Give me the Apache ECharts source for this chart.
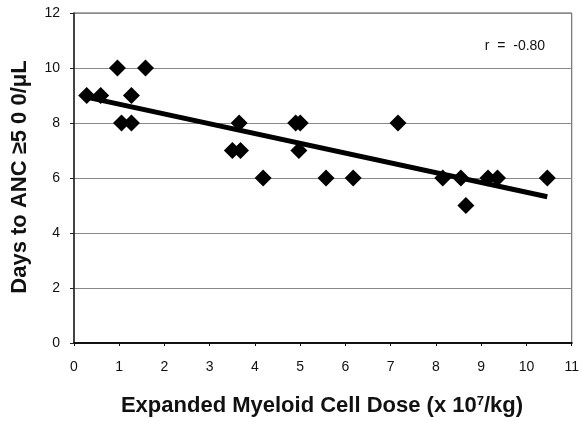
<!DOCTYPE html>
<html><head><meta charset="utf-8">
<script src="https://cdn.jsdelivr.net/npm/echarts@6/dist/echarts.min.js"></script>
<style>html,body{margin:0;padding:0;background:#fff}#c{width:582px;height:422px}</style>
</head><body><div id="c"></div>
<script>
var doseX = [0.28, 0.59, 0.96, 1.05, 1.27, 1.27, 1.58, 3.5, 3.68, 3.65, 4.18, 4.9, 5.0, 4.97, 5.57, 6.17, 7.16, 8.15, 8.55, 8.66, 9.15, 9.36, 10.46];
var daysY = [9, 9, 10, 8, 9, 8, 10, 7, 7, 8, 6, 8, 8, 7, 6, 6, 8, 6, 6, 5, 6, 6, 6];
var trendX = [0.25, 10.46];
var trendY = [8.95, 5.32];
var xTicks = [0,1,2,3,4,5,6,7,8,9,10,11];
var yTicks = [0,2,4,6,8,10,12];
var rLabel = 'r  =  -0.80';

var pts = doseX.map(function(x,i){return [x, daysY[i]];});
var trend = trendX.map(function(x,i){return [x, trendY[i]];});
var font = '"Liberation Sans", Arial, Helvetica, sans-serif';
var chart = echarts.init(document.getElementById('c'), null, {renderer:'canvas'});
chart.setOption({
  animation:false,
  backgroundColor:'#fff',
  grid:{left:74, right:7, top:13, bottom:79, show:true, borderColor:'#555', borderWidth:1, backgroundColor:'#fff'},
  xAxis:{type:'value', min:xTicks[0], max:xTicks[xTicks.length-1], interval:1,
    axisLine:{onZero:false, lineStyle:{color:'#111', width:2}},
    axisTick:{show:true, length:3, inside:false, lineStyle:{color:'#111'}},
    axisLabel:{color:'#111', fontSize:14, fontFamily:font, margin:17},
    splitLine:{show:false}},
  yAxis:{type:'value', min:yTicks[0], max:yTicks[yTicks.length-1], interval:2,
    axisLine:{show:true, onZero:false, lineStyle:{color:'#222', width:1.5}},
    axisTick:{show:true, length:4, lineStyle:{color:'#222'}},
    axisLabel:{color:'#111', fontSize:14, fontFamily:font, margin:14},
    splitLine:{show:true, lineStyle:{color:'#888', width:1}}},
  graphic:[
    {type:'text', x:20, y:177, rotation:Math.PI/2, style:{text:'Days to ANC \u22655 0 0/\u03bcL', font:'bold 22px '+font, fill:'#111', textAlign:'center', textVerticalAlign:'middle'}},
    {type:'text', x:322, y:406, style:{text:'{a|Expanded Myeloid Cell Dose (x 10}{s|7}{a|/kg)}', textAlign:'center', textVerticalAlign:'middle',
      rich:{a:{font:'bold 22px '+font, fill:'#111'}, s:{font:'bold 13px '+font, fill:'#111', verticalAlign:'top', padding:[0,0,10,0]}}}},
    {type:'text', x:515, y:46, style:{text:rLabel, font:'14px '+font, fill:'#111', textAlign:'center', textVerticalAlign:'middle'}}
  ],
  series:[
    {type:'line', data:trend, symbol:'none', lineStyle:{color:'#000', width:5}, z:3},
    {type:'scatter', data:pts, symbol:'diamond', symbolSize:[17,17], itemStyle:{color:'#000', opacity:1}, z:4}
  ]
});
</script></body></html>
